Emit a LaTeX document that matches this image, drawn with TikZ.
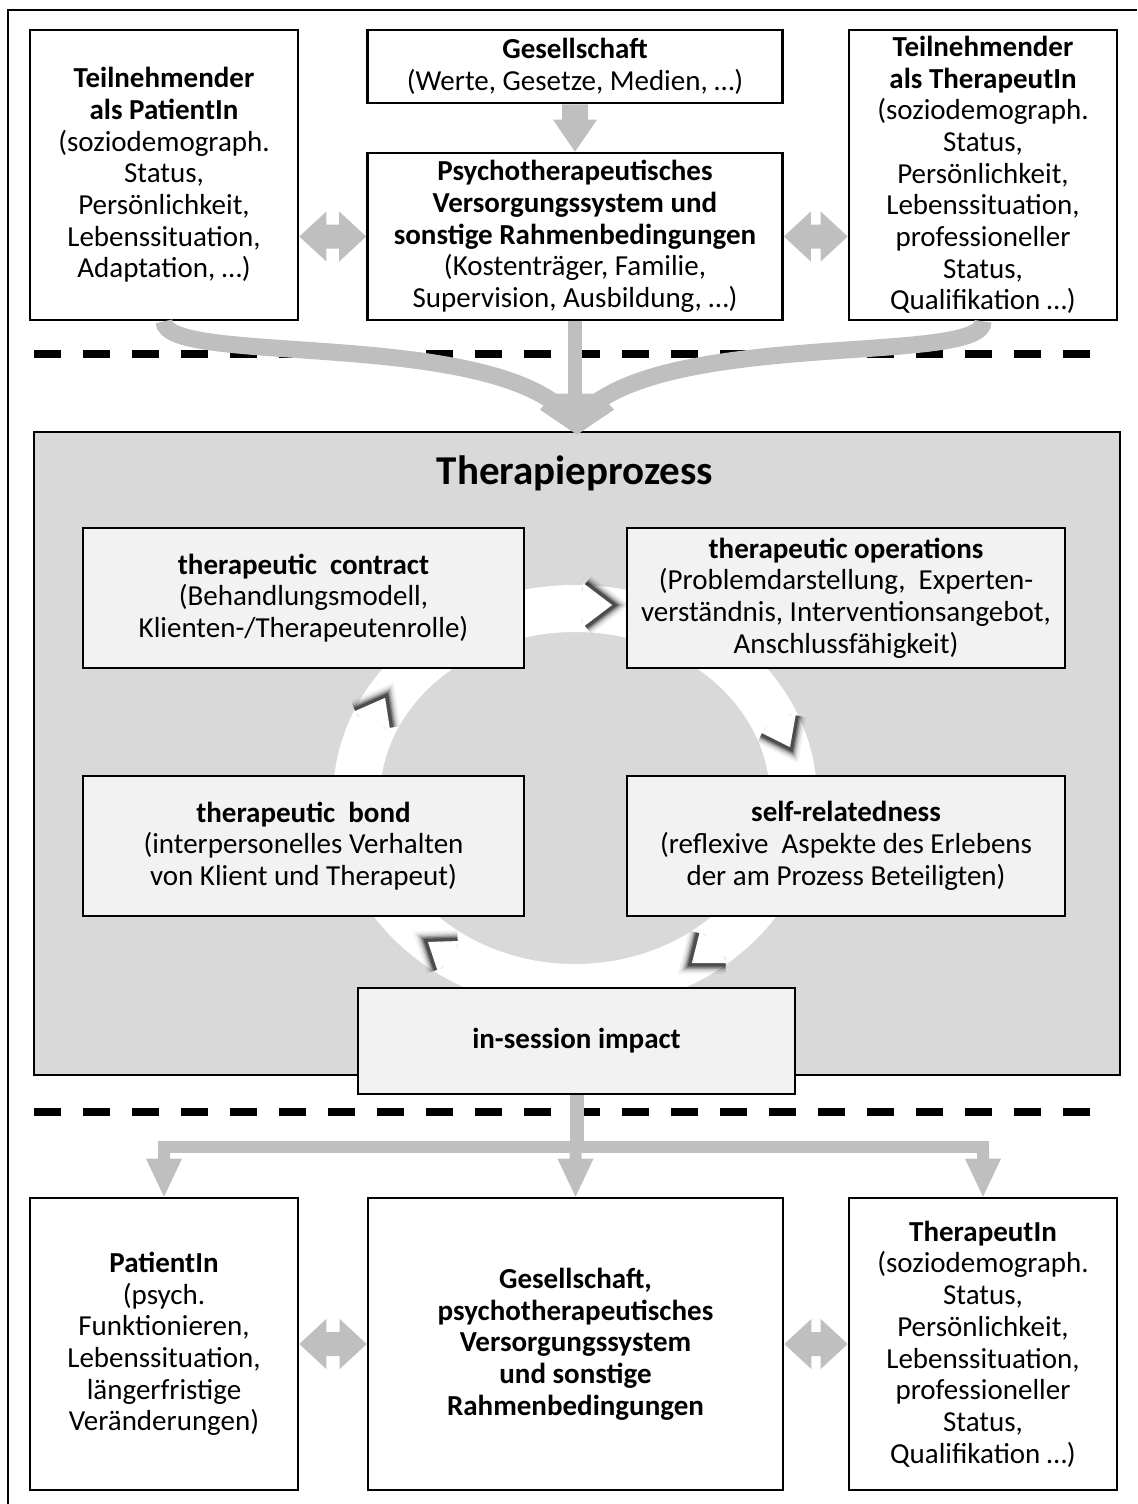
\documentclass[tikz,border=0pt]{standalone}
\usepackage{fontspec}
\setmainfont{Carlito}
\usetikzlibrary{calc}
\definecolor{arrowgray}{HTML}{BFBFBF}
\definecolor{procgray}{HTML}{D9D9D9}
\definecolor{cardgray}{HTML}{F2F2F2}
\newcommand\bodyfont{\fontsize{14.5}{15.85}\selectfont}
\newcommand\titlefont{\fontsize{20.5}{24}\selectfont\bfseries}

% horizontal block arrow with a head at both ends
\newcommand\dblarrow[2]{%
  \fill[arrowgray] let \p1=(#1), \p2=(#2) in
    (\x1,\y1) -- (\x1+13.5pt,\y1+12.5pt) -- (\x1+13.5pt,\y1+6pt)
    -- (\x2-13.5pt,\y1+6pt) -- (\x2-13.5pt,\y1+12.5pt) -- (\x2,\y1)
    -- (\x2-13.5pt,\y1-12.5pt) -- (\x2-13.5pt,\y1-6pt)
    -- (\x1+13.5pt,\y1-6pt) -- (\x1+13.5pt,\y1-12.5pt) -- cycle;}
% downward block arrow from the level of #1 onto #2
\newcommand\droparrow[2]{%
  \fill[arrowgray] let \p1=(#1), \p2=(#2) in
    (\x2-3pt,\y1) -- (\x2-3pt,\y2+19pt) -- (\x2-9pt,\y2+19pt) -- (\x2,\y2)
    -- (\x2+9pt,\y2+19pt) -- (\x2+3pt,\y2+19pt) -- (\x2+3pt,\y1) -- cycle;}
% arrow tip of one segment of the cycle (arm, tip, arm), with a soft
% shadow pushed ahead of it by the vector #4
\newcommand\chevron[4]{%
  \begin{scope}[shift={(#4)}]
  \foreach \w/\o in {9pt/0.05, 7pt/0.08, 5.5pt/0.12, 4pt/0.18, 2.8pt/0.25, 1.6pt/0.35}{
    \draw[line width=\w, black, opacity=\o, line join=miter] (#1) -- (#2) -- (#3);}
  \end{scope}
  \fill[white] (#1) -- (#2) -- (#3) -- cycle;}

\begin{document}
\begin{tikzpicture}[x=0.5pt,y=-0.5pt,
  box/.style={draw=black, line width=1.3pt, fill=white, inner sep=0pt,
    align=center, font=\bodyfont},
  card/.style={box, fill=cardgray},
  sidebox/.style={box, minimum width=134pt, minimum height=145pt}]

\useasboundingbox (0,0) rectangle (1137,1504);
\draw[line width=0.8pt] (8,1504) -- (8,10) -- (1137,10);

% upper row
\node[sidebox] (tl) at (164,175) {\textbf{Teilnehmender}\\\textbf{als PatientIn}\\(soziodemograph.\\Status,\\Persönlichkeit,\\Lebenssituation,\\Adaptation, …)};
\node[box, minimum width=207.5pt, minimum height=36.5pt] (gs) at (575,66.5) {\textbf{Gesellschaft}\\(Werte, Gesetze, Medien, …)};
\node[box, minimum width=207.5pt, minimum height=83.5pt] (psy) at (575,236.5) {\textbf{Psychotherapeutisches}\\\textbf{Versorgungssystem und}\\\textbf{sonstige Rahmenbedingungen}\\(Kostenträger, Familie,\\Supervision, Ausbildung, …)};
\node[sidebox] (tr) at (983,175) {\textbf{Teilnehmender}\\\textbf{als TherapeutIn}\\(soziodemograph.\\Status,\\Persönlichkeit,\\Lebenssituation,\\professioneller\\Status,\\Qualifikation …)};

% separators
\draw[line width=4pt, dash pattern=on 13.5pt off 11pt] (34,354) -- (1100,354);
\draw[line width=4pt, dash pattern=on 13.5pt off 11pt] (34,1112) -- (1100,1112);

% therapy process
\node[box, fill=procgray, minimum width=543pt, minimum height=321.5pt] (proc) at (577,753.5) {};
\node[font=\titlefont, inner sep=0pt] (ptitle) at (575,473) {Therapieprozess};

% cycle ring
\coordinate (ringc) at (575,798);
\fill[white, even odd rule] (ringc) ellipse [x radius=121pt, y radius=106.5pt]
  (ringc) ellipse [x radius=97.5pt, y radius=83pt];
\chevron{583,583}{612,605}{583,627}{3,0}
\chevron{760,732}{790,747}{796,713}{1.3,2.7}
\chevron{700,931}{692,963}{728,963}{-2.4,1.8}
\chevron{460,941}{428,942}{438,972}{-2.5,-1.7}
\chevron{353,712}{385,698}{390,730}{1.6,-2.6}

\node[card, minimum width=220.5pt, minimum height=70pt] (con) at (303.5,598) {\textbf{therapeutic\ \ contract}\\(Behandlungsmodell,\\Klienten-/Therapeutenrolle)};
\node[card, minimum width=219pt, minimum height=70pt] (ops) at (846,598) {\textbf{therapeutic operations}\\(Problemdarstellung,\ \ Experten-\\verständnis, Interventionsangebot,\\Anschlussfähigkeit)};
\node[card, minimum width=220.5pt, minimum height=70pt] (bond) at (303.5,846) {\textbf{therapeutic\ \ bond}\\(interpersonelles Verhalten\\von Klient und Therapeut)};
\node[card, minimum width=219pt, minimum height=70pt] (self) at (846,846) {\textbf{self-relatedness}\\(reflexive\ \ Aspekte des Erlebens\\der am Prozess Beteiligten)};
\node[card, minimum width=218.5pt, minimum height=53pt] (imp) at (576.5,1041) {\textbf{in-session impact}};

% lower row
\node[box, minimum width=134pt, minimum height=146pt] (pat) at (164,1344) {\textbf{PatientIn}\\(psych.\\Funktionieren,\\Lebenssituation,\\längerfristige\\Veränderungen)};
\node[box, minimum width=207.5pt, minimum height=146pt] (mid) at (575.5,1344) {\textbf{Gesellschaft,}\\\textbf{psychotherapeutisches}\\\textbf{Versorgungssystem}\\\textbf{und sonstige}\\\textbf{Rahmenbedingungen}};
\node[box, minimum width=134pt, minimum height=146pt] (ther) at (983,1344) {\textbf{TherapeutIn}\\(soziodemograph.\\Status,\\Persönlichkeit,\\Lebenssituation,\\professioneller\\Status,\\Qualifikation …)};

% influences from the upper row
\fill[arrowgray] let \p1=(gs.south), \p2=(psy.north) in
  (\x1-6.5pt,\y1) -- (\x1-6.5pt,\y2+16pt) -- (\x1-11pt,\y2+16pt) -- (\x2,\y2)
  -- (\x1+11pt,\y2+16pt) -- (\x1+6.5pt,\y2+16pt) -- (\x1+6.5pt,\y1) -- cycle;
\dblarrow{tl.east |- psy.west}{psy.west}
\dblarrow{psy.east}{tr.west |- psy.east}

\coordinate (mh) at (575,402);
\draw[arrowgray, line width=8.5pt] (tl.south) .. controls (164,365) and (470,330) .. ($(mh)+(-14,6)$);
\draw[arrowgray, line width=8.5pt] (tr.south) .. controls (986,365) and (680,330) .. ($(mh)+(14,6)$);
\draw[arrowgray, line width=7pt] (psy.south) -- (mh);
\fill[arrowgray] (proc.north) ++(0,4) -- ++(-37,-25) -- ++(14,-16) -- ++(46,0) -- ++(14,16) -- cycle;

% effects on the lower row
\coordinate (bar) at (577,1147);
\draw[arrowgray, line width=7pt] (imp.south) -- (imp.south |- bar);
\draw[arrowgray, line width=6pt, line cap=rect] (pat.north |- bar) -- (ther.north |- bar);
\droparrow{bar}{pat.north}
\droparrow{bar}{mid.north}
\droparrow{bar}{ther.north}

\dblarrow{pat.east}{mid.west}
\dblarrow{mid.east}{ther.west}
\end{tikzpicture}
\end{document}
